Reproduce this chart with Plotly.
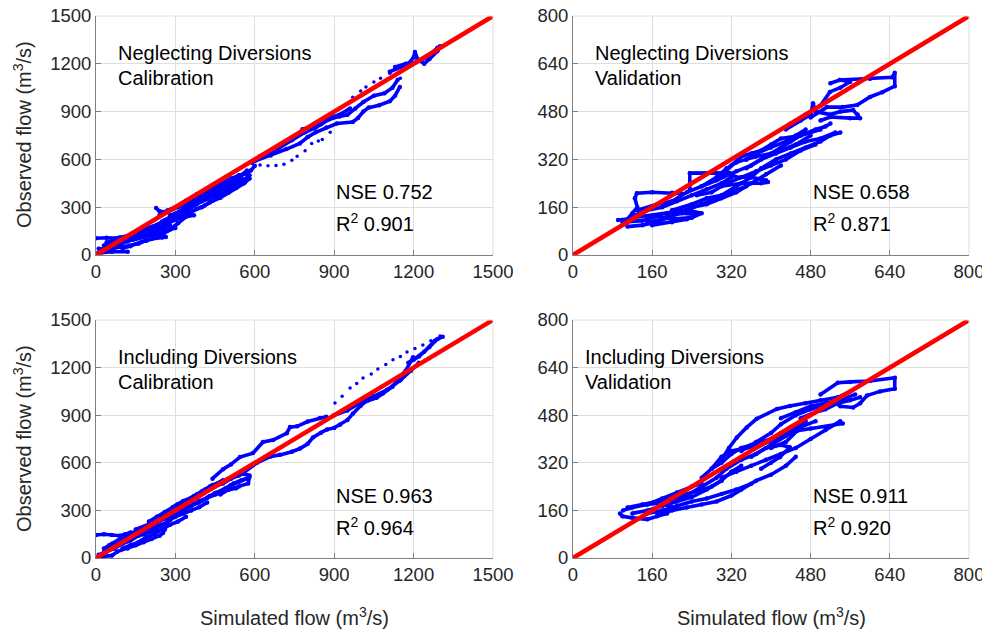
import plotly.graph_objects as go

# ---- data (m3/s) ----
# each panel: blue trails (None breaks a trail) + sparse dotted points
nc_sim = [0, 40, 90, 110, 140, 170, 200, 230, None,
          5, 30, 60, 100, 140, 180, 220, 260, 280, None,
          20, 60, 120, None,
          10, 50, 90, 130, 170, 210, 250, 264, 240, 200, 160, 120, 80, 40, None,
          220, 260, 300, 330, 360, 400, 430, 470, 500, 530, 560, 580, 570, 540, 500, 460, 420, 380, 340, 300, 270, 240, None,
          227, 240, 270, 310, 350, 390, 430, 470, 510, 550, 585, 600, None,
          300, 340, 380, 420, 460, 500, 540, 575, None,
          250, 290, 320, 360, 400, 440, None,
          30, 60, 90, 120, 150, 180, 210, 240, 270, 300, None,
          320, 350, 380, 410, 440, 470, 500, 530, 560, 580, None,
          350, 380, 400, 430, 460, 490, 520, 550, None,
          280, 300, 330, 360, 390, 420, 450, 480, 510, 540, 570, None,
          100, 130, 160, 190, 220, 250, 280, 310, 340, 370, None,
          60, 90, 120, 160, 200, 230, 260, 290, None,
          150, 180, 200, 230, 260, 290, 320, 350, 380, 410, 440, 470, 500, 530, None,
          40, 70, 100, 130, 160, 190, 220, 250, None,
          600, 660, 720, 770, 800, 830, 870, 910, 970, 990, 1010, 1030, 1070, 1110, 1130, 1148, None,
          620, 680, 740, 790, 830, 880, 920, 950, 980, 1010, 1050, 1090, 1120, 1140, None,
          780, 820, 850, 880, 920, 960, None,
          1110, 1150, 1180, 1200, 1205, 1215, 1240, 1260, 1290, 1300, None,
          1130, 1170, 1210, 1250, 1290]
nc_obs = [105, 108, 105, 95, 110, 125, 140, 155, None,
          10, 30, 55, 75, 95, 120, 145, 170, 185, None,
          15, 20, 20, None,
          40, 35, 50, 60, 80, 100, 110, 113, 145, 135, 115, 100, 80, 60, None,
          160, 190, 220, 250, 270, 300, 330, 360, 390, 420, 450, 480, 510, 500, 470, 440, 400, 380, 340, 300, 280, 250, None,
          295, 275, 270, 300, 330, 370, 410, 440, 470, 500, 530, 560, None,
          240, 280, 320, 350, 380, 420, 460, 490, None,
          210, 230, 260, 300, 340, 370, None,
          60, 70, 80, 85, 100, 110, 125, 140, 150, 170, None,
          230, 260, 290, 310, 340, 380, 410, 440, 470, 500, None,
          300, 330, 350, 370, 400, 430, 460, 480, None,
          250, 260, 290, 320, 350, 380, 410, 440, 480, 490, 530, None,
          40, 55, 70, 90, 110, 130, 160, 200, 240, 250, None,
          100, 110, 120, 150, 170, 190, 220, 250, None,
          120, 140, 150, 170, 200, 230, 260, 290, 320, 350, 380, 410, 440, 460, None,
          80, 90, 100, 120, 140, 160, 180, 200, None,
          590, 625, 665, 700, 740, 770, 800, 825, 835, 860, 900, 925, 940, 965, 1000, 1055, None,
          620, 660, 720, 770, 800, 850, 870, 880, 920, 960, 1000, 1015, 1050, 1100, None,
          790, 810, 820, 860, 880, 920, None,
          1150, 1180, 1200, 1240, 1274, 1230, 1200, 1230, 1280, 1310, None,
          1180, 1200, 1210, 1240, 1300]
nc_dot_sim = [590, 620, 650, 680, 710, 740, 760, 790, 815, 840, 855, 885, 970, 1000, 1020, 1050, 1075, 1110, 1150]
nc_dot_obs = [575, 565, 560, 562, 570, 595, 620, 655, 700, 715, 725, 770, 990, 1030, 1055, 1085, 1110, 1140, 1110]

ic_sim = [0, 30, 60, 90, 110, 130, 160, None,
          10, 40, 70, 100, 130, 160, 200, 240, 270, None,
          20, 60, 80, 120, 150, 180, 210, 240, 253, 260, 220, 180, 140, 100, 60, 30, None,
          150, 200, 240, 270, 300, 320, 350, 370, 400, 430, 460, 490, 520, 550, 580, 575, 540, 500, 470, None,
          200, 230, 260, 290, 310, 340, 370, 400, 430, 460, 480, None,
          260, 290, 320, 360, 390, 420, 450, 480, 500, 530, None,
          180, 210, 250, 280, 300, 330, 360, 390, 420, None,
          50, 80, 110, 140, 170, 200, 230, 260, 290, 320, None,
          300, 330, 360, 380, 410, 440, 470, 500, 530, 560, 580, None,
          330, 360, 390, 420, 450, 480, 510, 540, 570, None,
          100, 130, 160, 190, 220, 250, 280, 310, 340, None,
          30, 60, 90, 110, 130, 150, None,
          240, 270, 300, 330, 360, 390, 420, 450, 480, 510, 540, None,
          440, 480, 510, 544, 593, 631, 669, 721, 733, 760, 800, 846, 870, None,
          560, 608, 660, 695, 740, 771, 800, 820, 850, 873, 900, 922, 950, 971, 1000, 1024, 1060, 1084, 1120, 1148, 1170, 1198, None,
          900, 950, 1000, 1050, 1100, 1150, 1190, 1220, None,
          1180, 1220, 1260, 1290, 1310, 1280, 1240, 1200]
ic_obs = [145, 150, 145, 140, 150, 160, 165, None,
          20, 40, 60, 90, 110, 140, 170, 200, 220, None,
          10, 15, 40, 60, 80, 100, 120, 140, 157, 180, 170, 150, 130, 110, 70, 40, None,
          180, 210, 240, 250, 270, 290, 320, 340, 360, 390, 410, 440, 470, 490, 510, 470, 450, 430, 400, None,
          230, 260, 290, 320, 340, 360, 390, 420, 450, 470, 490, None,
          250, 280, 300, 330, 360, 380, 400, 420, 430, 440, None,
          150, 180, 210, 240, 260, 280, 300, 320, 350, None,
          80, 100, 120, 140, 170, 190, 220, 250, 280, 310, None,
          330, 360, 380, 400, 430, 460, 480, 500, 520, 530, 520, None,
          300, 330, 350, 380, 410, 430, 460, 480, 500, None,
          60, 80, 100, 130, 150, 180, 210, 230, 260, None,
          60, 90, 120, 130, 150, 160, None,
          260, 290, 310, 340, 370, 400, 430, 450, 470, 500, 520, None,
          500, 560, 590, 636, 661, 731, 743, 787, 825, 830, 860, 882, 890, None,
          540, 600, 640, 650, 670, 690, 720, 760, 790, 810, 820, 840, 870, 910, 960, 990, 1010, 1036, 1080, 1137, 1180, 1266, None,
          900, 930, 980, 1020, 1060, 1120, 1180, 1230, None,
          1230, 1270, 1330, 1380, 1395, 1370, 1300, 1250]
ic_dot_sim = [903, 930, 960, 985, 1009, 1040, 1065, 1095, 1122, 1150, 1175, 1205, 1235, 1265, 1300]
ic_dot_obs = [977, 1020, 1071, 1100, 1134, 1160, 1191, 1220, 1249, 1270, 1298, 1320, 1342, 1370, 1399]

nv_sim = [91, 110, 120, 130, 125, 129, 160, 200, 220, None,
          100, 140, 170, 200, 240, 260, 230, 190, 150, 120, None,
          110, 140, 170, 200, 230, 260, 290, 320, 350, None,
          130, 170, 200, 230, 260, 290, 330, 360, 390, 420, 450, 480, None,
          236, 236, 280, 317, 330, 360, 390, 394, 380, 340, 300, None,
          200, 240, 270, 300, 330, 360, 380, 410, 440, 470, 500, 520, 540, None,
          260, 290, 310, 330, 350, 370, 400, 420, 440, 460, 480, 500, None,
          300, 320, 340, 360, 380, 400, 420, 460, 490, 510, 520, None,
          150, 180, 210, 240, 270, 300, 330, 360, 390, 420, None,
          120, 150, 180, 210, 240, 270, 300, 320, None,
          250, 280, 310, 340, 370, 400, 430, 460, 490, None,
          350, 380, 410, 440, 470, 500, 530, None,
          160, 200, 230, 250, 220, 180, None,
          350, 370, 400, 430, 450, 470, None,
          430, 460, 480, 485, 490, 520, 540, 566, 575, 580, 560, 520, 500, None,
          480, 513, 545, 574, 600, 625, 650, 650, 645, 600, 539, 520, None,
          440, 470, 500, 519, 540, 560, 539]
nv_obs = [117, 120, 140, 160, 190, 207, 210, 208, 205, None,
          110, 115, 130, 120, 125, 140, 150, 140, 130, 125, None,
          95, 100, 110, 130, 150, 170, 190, 210, 230, None,
          150, 170, 180, 210, 230, 250, 280, 300, 330, 350, 370, 400, None,
          220, 274, 275, 274, 260, 260, 250, 244, 240, 240, 230, None,
          150, 170, 190, 200, 230, 260, 290, 320, 340, 360, 380, 400, 410, None,
          230, 260, 290, 310, 320, 330, 340, 360, 380, 400, 410, 420, None,
          260, 300, 330, 340, 350, 370, 390, 400, 420, 430, 440, None,
          110, 120, 140, 160, 170, 190, 210, 240, 270, 300, None,
          130, 150, 160, 180, 200, 220, 240, 260, None,
          200, 210, 240, 260, 280, 300, 320, 350, 370, None,
          290, 320, 340, 360, 380, 390, 410, None,
          100, 110, 120, 135, 140, 125, None,
          320, 340, 360, 380, 400, 420, None,
          420, 450, 470, 508, 480, 470, 480, 485, 470, 458, 458, 462, 450, None,
          460, 495, 495, 502, 529, 545, 565, 610, 595, 590, 586, 575, None,
          440, 470, 500, 546, 560, 580, 586]

iv_sim = [95, 100, 120, 150, 170, 190, 200, 180, 150, 120, 101, None,
          110, 140, 170, 200, 230, 260, 280, 300, None,
          150, 180, 210, 240, 270, 300, 330, 360, None,
          170, 200, 230, 260, 290, 320, 340, 370, 400, 430, 450, None,
          280, 300, 320, 340, 360, 380, 400, 420, 440, None,
          300, 315, 331, 351, 371, 412, 438, 470, 500, 535, 560, None,
          340, 370, 400, 420, 450, 480, 500, 520, 540, None,
          120, 150, 180, 210, 240, 270, 300, 320, 340, None,
          200, 230, 260, 290, 310, 340, 370, 400, 430, 460, 490, None,
          260, 280, 300, 320, 350, 380, 410, 440, 470, None,
          300, 330, 360, 390, 420, 450, 480, 510, 540, None,
          420, 450, 480, 510, 540, 570, None,
          150, 180, 210, 240, 260, None,
          400, 430, 453, 480, 510, 545, None,
          380, 400, 418, 438, 420, 390, 360, None,
          500, 535, 560, 600, 650, 650, 620, 594, 580, 566, 540, 533, None,
          460, 490, 510, 533, 560, 580]
iv_obs = [150, 140, 135, 130, 140, 150, 170, 185, 180, 170, 160, None,
          170, 180, 190, 200, 215, 230, 240, 260, None,
          150, 160, 175, 190, 200, 215, 230, 250, None,
          150, 160, 170, 180, 190, 210, 230, 260, 280, 310, 340, None,
          300, 320, 350, 370, 380, 390, 400, 420, 440, None,
          330, 370, 405, 439, 468, 501, 511, 520, 530, 540, 560, None,
          360, 390, 420, 450, 480, 500, 510, 520, 530, None,
          150, 160, 175, 190, 205, 230, 260, 290, 310, None,
          190, 210, 240, 270, 300, 330, 350, 380, 410, 440, 460, None,
          270, 300, 340, 360, 370, 380, 400, 430, 460, None,
          270, 290, 310, 330, 350, 370, 400, 430, 460, None,
          470, 490, 510, 520, 530, 550, None,
          180, 200, 220, 240, 250, None,
          370, 390, 428, 435, 440, 452, None,
          300, 320, 339, 372, 380, 370, 340, None,
          550, 589, 592, 595, 606, 569, 560, 546, 520, 506, 510, 519, None,
          470, 490, 500, 519, 530, 540]

panels = [
    # (sim, obs, dot_sim, dot_obs, axis max, ticks, line1, line2, nse, r2)
    (nc_sim, nc_obs, nc_dot_sim, nc_dot_obs, 1500, [0, 300, 600, 900, 1200, 1500],
     'Neglecting Diversions', 'Calibration', '0.752', '0.901'),
    (nv_sim, nv_obs, [], [], 800, [0, 160, 320, 480, 640, 800],
     'Neglecting Diversions', 'Validation', '0.658', '0.871'),
    (ic_sim, ic_obs, ic_dot_sim, ic_dot_obs, 1500, [0, 300, 600, 900, 1200, 1500],
     'Including Diversions', 'Calibration', '0.963', '0.964'),
    (iv_sim, iv_obs, [], [], 800, [0, 160, 320, 480, 640, 800],
     'Including Diversions', 'Validation', '0.911', '0.920'),
]

# the page puts the figure 8px in from the top-left corner, so shift by that
OFF = 8
W, H = 990, 631
# pixel boxes of the four axes in the screenshot (left, right, top, bottom)
boxes = [(96, 493, 16, 255), (573, 969, 16, 255), (96, 493, 320, 558), (573, 969, 320, 558)]


def fx(px):
    return (px - OFF) / W


def fy(py):
    return 1 - (py - OFF) / H


FONT = 'Liberation Sans, Arial, sans-serif'
BLUE = '#0000ff'
fig = go.Figure()
annotations = []

for i, (sim, obs, dsim, dobs, top, ticks, t1, t2, nse, r2) in enumerate(panels):
    n = '' if i == 0 else str(i + 1)
    xa, ya = 'x' + n, 'y' + n
    fig.add_trace(go.Scatter(x=sim, y=obs, xaxis=xa, yaxis=ya, mode='lines+markers',
                             line=dict(color=BLUE, width=3.6), marker=dict(color=BLUE, size=4.5),
                             connectgaps=False, showlegend=False, hoverinfo='skip'))
    if dsim:
        fig.add_trace(go.Scatter(x=dsim, y=dobs, xaxis=xa, yaxis=ya, mode='markers',
                                 marker=dict(color=BLUE, size=3.5), showlegend=False, hoverinfo='skip'))
    fig.add_trace(go.Scatter(x=[0, top], y=[0, top], xaxis=xa, yaxis=ya, mode='lines',
                             line=dict(color='#ff0000', width=4.5), showlegend=False, hoverinfo='skip'))

    l, r, t, b = boxes[i]
    ax = dict(range=[0, top], tickvals=ticks, showgrid=True, gridcolor='#dedede', gridwidth=1,
              showline=True, linecolor='#808080', linewidth=1, ticks='inside', ticklen=5,
              tickcolor='#808080', zeroline=False, tickfont=dict(family=FONT, size=18.5, color='#262626'),
              fixedrange=True, automargin=False, ticklabeloverflow='allow')
    fig.layout['xaxis' + n] = dict(ax, domain=[fx(l), fx(r)], anchor=ya)
    fig.layout['yaxis' + n] = dict(ax, domain=[fy(b), fy(t)], anchor=xa)

    # top and right edges of the box
    fig.add_shape(type='line', xref=xa + ' domain', yref=ya + ' domain', x0=0, x1=1, y0=1, y1=1,
                  line=dict(color='#dedede', width=1))
    fig.add_shape(type='line', xref=xa + ' domain', yref=ya + ' domain', x0=1, x1=1, y0=0, y1=1,
                  line=dict(color='#dedede', width=1))

    tx = 0.05 if i != 3 else 0.025
    for txt, yy in ((t1, 0.845), (t2, 0.74)):
        annotations.append(dict(text=txt, xref=xa + ' domain', yref=ya + ' domain', x=tx, y=yy,
                                xanchor='left', yanchor='middle', showarrow=False,
                                font=dict(family=FONT, size=20, color='#000000')))
    annotations.append(dict(text='NSE ' + nse, xref=xa + ' domain', yref=ya + ' domain', x=0.6, y=0.262,
                            xanchor='left', yanchor='middle', showarrow=False,
                            font=dict(family=FONT, size=20, color='#000000')))
    annotations.append(dict(text='R<sup>2</sup> ' + r2, xref=xa + ' domain', yref=ya + ' domain', x=0.6,
                            y=0.134, xanchor='left', yanchor='middle', showarrow=False,
                            font=dict(family=FONT, size=20, color='#000000')))

# axis titles
for yc in (135, 439):
    annotations.append(dict(text='Observed flow (m<sup>3</sup>/s)', xref='paper', yref='paper',
                            x=fx(22), y=fy(yc), textangle=-90, showarrow=False,
                            xanchor='center', yanchor='middle',
                            font=dict(family=FONT, size=20, color='#262626')))
for xc in (294, 771):
    annotations.append(dict(text='Simulated flow (m<sup>3</sup>/s)', xref='paper', yref='paper',
                            x=fx(xc), y=fy(616), showarrow=False, xanchor='center', yanchor='middle',
                            font=dict(family=FONT, size=20, color='#262626')))

fig.update_layout(width=W, height=H, margin=dict(l=0, r=0, t=0, b=0, autoexpand=False),
                  paper_bgcolor='white', plot_bgcolor='white', annotations=annotations)

fig.write_html('out.html')
